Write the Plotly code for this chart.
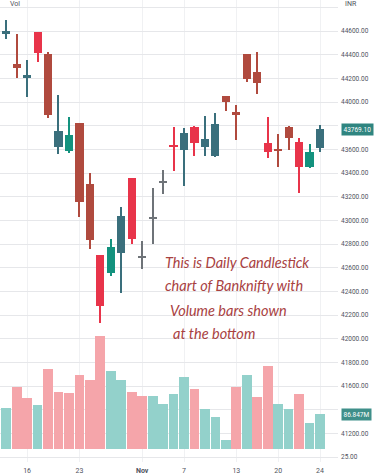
import plotly.graph_objects as go

dates = ["2023-10-12", "2023-10-13", "2023-10-16", "2023-10-17", "2023-10-18", "2023-10-19",
         "2023-10-20", "2023-10-23", "2023-10-25", "2023-10-26", "2023-10-27", "2023-10-30",
         "2023-10-31", "2023-11-01", "2023-11-02", "2023-11-03", "2023-11-06", "2023-11-07",
         "2023-11-08", "2023-11-09", "2023-11-10", "2023-11-12", "2023-11-13", "2023-11-15",
         "2023-11-16", "2023-11-17", "2023-11-20", "2023-11-21", "2023-11-22", "2023-11-23",
         "2023-11-24"]
open_ = [44575, 44321, 44203, 44592, 44406, 43620, 43586, 43823, 43307, 42704, 42557, 42721,
         43355, 42699, 43021, 43326, 43634, 43594, 43791, 43622, 43544, 44051, 43916, 44403,
         44256, 43656, 43600, 43791, 43659, 43453, 43614]
high = [44693, 44575, 44355, 44592, 44420, 44057, 43876, 43825, 43398, 42707, 42840, 43110,
        43358, 42828, 43276, 43425, 43791, 43783, 43797, 43882, 43910, 44055, 43975, 44406,
        44425, 43876, 43727, 43797, 43698, 43645, 43806]
low = [44532, 44203, 44045, 44335, 43865, 43561, 43569, 43031, 42758, 42132, 42530, 42388,
       42797, 42591, 42797, 43222, 43419, 43290, 43544, 43544, 43535, 43924, 43679, 44166,
       44065, 43524, 43453, 43594, 43234, 43442, 43577]
close = [44600, 44290, 44226, 44412, 43890, 43755, 43721, 43152, 42831, 42279, 42777, 43034,
         42845, 42690, 43013, 43317, 43620, 43735, 43656, 43685, 43814, 43998, 43890, 44197,
         44161, 43580, 43586, 43693, 43453, 43580, 43769.10]
volume_m = [103.4, 155.9, 128.4, 109.4, 199.5, 143.4, 139.4, 184.5, 172.0, 282.8, 196.0, 172.7,
            143.4, 131.9, 132.4, 112.6, 137.7, 181.0, 149.4, 99.4, 80.8, 22.5, 155.9, 185.2,
            130.9, 208.5, 112.6, 99.4, 137.7, 64.3, 86.85]

tick_dates = ["2023-10-16", "2023-10-23", "2023-11-01", "2023-11-07", "2023-11-13", "2023-11-20", "2023-11-24"]
tick_labels = ["16", "23", "<b>Nov</b>", "7", "13", "20", "24"]
price_ticks = list(range(41000, 44801, 200))
hidden_ticks = [44800, 43800, 41400]
price_tick_labels = ["25.00" if v == 41000 else ("" if v in hidden_ticks else f"{v}.00") for v in price_ticks]

# style: shade of each candle as seen in the screenshot
candle_shade = ["slate", "brown", "slate", "red", "brown", "slate", "teal", "brown", "brown", "red",
                "teal", "slate", "red", "gray", "gray", "gray", "red", "slate", "red", "slate",
                "slate", "brown", "brown", "brown", "brown", "red", "brown", "brown", "red", "teal",
                "slate"]
shade_colors = {"red": "#e8344a", "brown": "#b04a3e", "teal": "#13927e", "slate": "#3a6f7c", "gray": "#6e7378"}
col = [shade_colors[s] for s in candle_shade]

vol_col = []
for i, c in enumerate(close):
    up = True if i == 0 else c >= close[i - 1]
    vol_col.append("#93d1cb" if up else "#f5a5aa")

body_base = [min(o, c) for o, c in zip(open_, close)]
body_h = [abs(c - o) for o, c in zip(open_, close)]
wick_h = [h - l for h, l in zip(high, low)]

fig = go.Figure()
fig.add_trace(go.Bar(x=dates, y=volume_m, yaxis="y2", marker=dict(color=vol_col, line=dict(width=0)),
                     width=0.93, showlegend=False))
fig.add_trace(go.Bar(x=dates, y=wick_h, base=low, marker=dict(color=col, line=dict(width=0)),
                     width=0.1, showlegend=False))
fig.add_trace(go.Bar(x=dates, y=body_h, base=body_base, marker=dict(color=col, line=dict(width=0)),
                     width=0.78, showlegend=False))

tick_font = dict(family="Roboto, Noto Sans, sans-serif", size=6.5, color="#50535e")

fig.update_layout(
    width=375, height=475,
    margin=dict(l=0, r=37, t=0, b=13),
    paper_bgcolor="white", plot_bgcolor="white",
    barmode="overlay", bargap=0,
    xaxis=dict(type="category", categoryorder="array", categoryarray=dates,
               range=[-0.593, 31.72], tickmode="array", tickvals=tick_dates, ticktext=tick_labels,
               showgrid=True, gridcolor="#f0f1f3", gridwidth=1, zeroline=False, showline=False,
               ticks="", tickfont=dict(family="Roboto, Noto Sans, sans-serif", size=7, color="#50535e"),
               ticklabelstandoff=3),
    yaxis=dict(range=[40958, 44862], side="right", tickmode="array", tickvals=price_ticks,
               ticktext=price_tick_labels, showgrid=True, gridcolor="#e6e7ea", gridwidth=1,
               zeroline=False, showline=False, ticks="", tickfont=tick_font, ticklabelstandoff=2),
    yaxis2=dict(range=[-32.5, 1123.9], overlaying="y", visible=False),
    hovermode=False,
)

hand_font = dict(family="Lato, sans-serif", size=14.5, color="#a8413f", style="italic")
lines = [("This is Daily Candlestick", 163, 262), ("chart of Banknifty with", 163, 285),
         ("Volume bars shown", 168, 310), ("at the bottom", 171, 333)]
for txt, px, py in lines:
    fig.add_annotation(text=txt, xref="paper", yref="paper", x=px / 338, y=1 - py / 462,
                       xanchor="left", yanchor="middle", showarrow=False, font=hand_font)

fig.add_annotation(text="Vol", xref="paper", yref="paper", x=8 / 338, y=1 - 4 / 462, xanchor="left",
                   yanchor="middle", showarrow=False, font=dict(family="Roboto, sans-serif", size=7, color="#50535e"))
fig.add_annotation(text="INR", xref="paper", yref="paper", x=343 / 338, y=1 - 4 / 462, xanchor="left",
                   yanchor="middle", showarrow=False, font=dict(family="Roboto, sans-serif", size=7, color="#50535e"))
fig.add_annotation(text=f"{close[-1]:.2f}", xref="paper", yref="y", x=341 / 338, y=close[-1],
                   xanchor="left", yanchor="middle", showarrow=False, bgcolor="#2f8580", borderpad=1.5,
                   font=dict(family="Roboto, sans-serif", size=6.5, color="white"))
fig.add_annotation(text="86.847M", xref="paper", yref="y2", x=341 / 338, y=volume_m[-1],
                   xanchor="left", yanchor="middle", showarrow=False, bgcolor="#3f8f8a", borderpad=1.5,
                   font=dict(family="Roboto, sans-serif", size=6.5, color="white"))

fig.write_html("out.html", config={"displayModeBar": False},
               post_script="document.body.style.margin='0px';")
